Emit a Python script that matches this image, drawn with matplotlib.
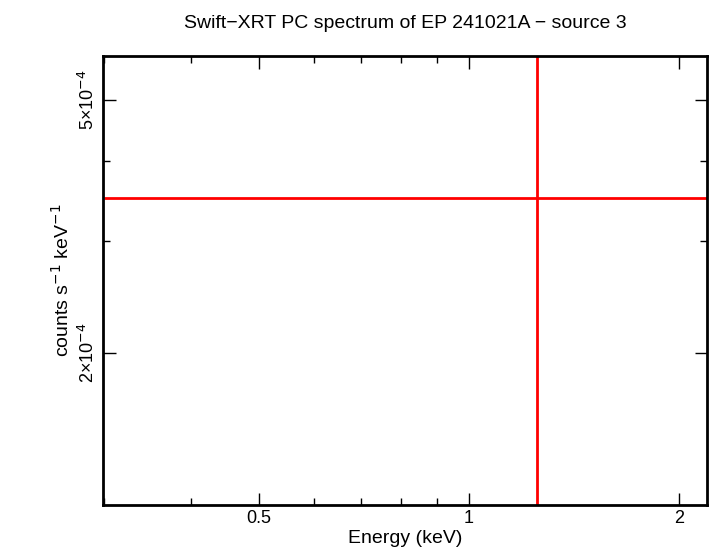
import matplotlib
matplotlib.use("Agg")
import matplotlib.pyplot as plt
from matplotlib.ticker import FixedLocator, NullFormatter, LogLocator

plt.rcParams['font.family'] = 'Liberation Sans'

energy = [1.25]
energy_lo = [0.95]
energy_hi = [5.0]
rate = [3.51e-4]
rate_lo = [3.4e-4]
rate_hi = [5.0e-3]

xticks = [0.5, 1, 2]
xticklabels = ["0.5", "1", "2"]
yticks = [2e-4, 5e-4]
yticklabels = ["2×10$^{-4}$", "5×10$^{-4}$"]

fig = plt.figure(figsize=(7.1, 5.56), dpi=100)
ax = fig.add_axes([103/710, 1-505/556, (707-103)/710, (505-56)/556])
ax.errorbar(energy, rate, xerr=[energy_lo, energy_hi], yerr=[rate_lo, rate_hi],
            fmt='none', ecolor='red', elinewidth=2, capsize=0)
ax.set_xscale('log'); ax.set_yscale('log')
ax.set_xlim(0.299, 2.194)
ax.set_ylim(1.153e-4, 5.86e-4)
ax.xaxis.set_major_locator(FixedLocator(xticks))
ax.set_xticklabels(xticklabels)
ax.xaxis.set_minor_locator(LogLocator(subs=range(1, 10)))
ax.xaxis.set_minor_formatter(NullFormatter())
ax.yaxis.set_major_locator(FixedLocator(yticks))
ax.set_yticklabels(yticklabels, rotation=90, va='center')
ax.yaxis.set_minor_locator(LogLocator(subs=range(1, 10)))
ax.yaxis.set_minor_formatter(NullFormatter())
ax.tick_params(which='both', direction='in', top=True, right=True, labelsize=13)
ax.tick_params(which='major', length=9, width=1)
ax.tick_params(which='minor', length=5, width=1)
for s in ax.spines.values():
    s.set_linewidth(2)
ax.set_xlabel("Energy (keV)", fontsize=14, labelpad=2)
ax.set_ylabel("counts s$^{-1}$ keV$^{-1}$", fontsize=14)
ax.set_title("Swift−XRT PC spectrum of EP 241021A − source 3", fontsize=14, pad=20)
fig.savefig("out.png", dpi=100)
